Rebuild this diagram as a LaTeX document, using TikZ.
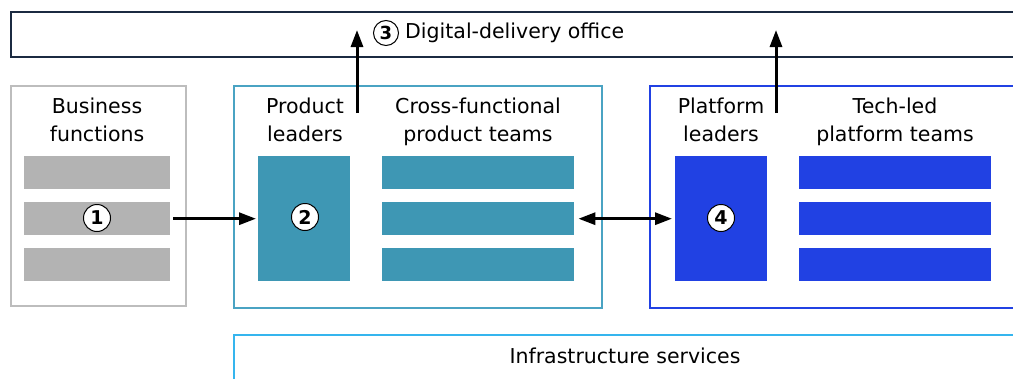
\documentclass[tikz,border=0pt]{standalone}
\usepackage{fontspec}
\setmainfont{DejaVu Sans}
\usetikzlibrary{arrows.meta}
\definecolor{navy}{HTML}{1B2A41}
\definecolor{boxgray}{HTML}{BDBDBD}
\definecolor{bargray}{HTML}{B3B3B3}
\definecolor{teal}{HTML}{3E97B4}
\definecolor{tealedge}{HTML}{4AA3C3}
\definecolor{royal}{HTML}{2141E3}
\definecolor{sky}{HTML}{35B5EE}
\tikzset{
  frame/.style={draw, line width=1.5pt, fill=none, anchor=north west, inner sep=0pt},
  bar/.style={fill=#1, draw=none, anchor=north west, inner sep=0pt, minimum width=146pt, minimum height=33pt},
  leadblock/.style={fill=#1, draw=none, anchor=north west, inner sep=0pt, minimum width=92pt, minimum height=125pt},
  label/.style={font=\fontsize{20.5}{28}\selectfont, align=center, inner sep=0pt, anchor=north},
  badge/.style={circle, draw=black, line width=1pt, fill=white, inner sep=0pt, minimum size=27pt, font=\fontsize{19}{19}\selectfont\bfseries},
  link/.style={line width=3pt, -{Triangle[length=17pt,width=12pt]}},
  twoway/.style={line width=3pt, {Triangle[length=17pt,width=12pt]}-{Triangle[length=17pt,width=12pt]}}
}
\begin{document}
\begin{tikzpicture}[x=1pt,y=-1pt]
\useasboundingbox (0,0) rectangle (1013,378);
\clip (0,0) rectangle (1013,378);

% digital-delivery office band
\node[frame, draw=navy, line width=2pt, minimum width=1040pt, minimum height=45pt] (office) at (10,11) {};
\node[badge, minimum size=25pt, font=\fontsize{18}{18}\selectfont\bfseries] (b3) at (386,33) {3};
\node[font=\fontsize{20.5}{24}\selectfont, anchor=west, inner sep=0pt] (officetext) at (405,33) {Digital-delivery office};

% business functions
\node[frame, draw=boxgray, minimum width=175pt, minimum height=220pt] (business) at (10,85) {};
\node[label] (businesstext) at (97,98) {Business\\functions};
\node[bar=bargray] (g1) at (24,156) {};
\node[bar=bargray] (g2) at (24,202) {};
\node[bar=bargray] (g3) at (24,248) {};
\node[badge] (b1) at (97,218) {1};

% product side
\node[frame, draw=tealedge, minimum width=368pt, minimum height=222pt] (product) at (233,85) {};
\node[label] (pleadtext) at (305,98) {Product\\leaders};
\node[label] (pteamtext) at (478,98) {Cross-functional\\product teams};
\node[leadblock=teal] (plead) at (258,156) {};
\node[bar=teal, minimum width=192pt] (t1) at (382,156) {};
\node[bar=teal, minimum width=192pt] (t2) at (382,202) {};
\node[bar=teal, minimum width=192pt] (t3) at (382,248) {};
\node[badge] (b2) at (305,217) {2};

% platform side
\node[frame, draw=royal, minimum width=400pt, minimum height=222pt] (platform) at (649,85) {};
\node[label] (fleadtext) at (721,98) {Platform\\leaders};
\node[label] (fteamtext) at (895,98) {Tech-led\\platform teams};
\node[leadblock=royal] (flead) at (675,156) {};
\node[bar=royal, minimum width=192pt] (r1) at (799,156) {};
\node[bar=royal, minimum width=192pt] (r2) at (799,202) {};
\node[bar=royal, minimum width=192pt] (r3) at (799,248) {};
\node[badge] (b4) at (721,218) {4};

% infrastructure services
\node[frame, draw=sky, line width=2pt, minimum width=800pt, minimum height=70pt] (infra) at (233,334) {};
\node[font=\fontsize{20.5}{24}\selectfont, inner sep=0pt] (infratext) at (625,356) {Infrastructure services};

% connectors
\coordinate (pup) at (357,113);
\coordinate (ptop) at (357,30);
\coordinate (fup) at (776,113);
\coordinate (ftop) at (776,30);
\draw[link] (pup) -- (ptop);
\draw[link] (fup) -- (ftop);
\draw[link, shorten <=3pt, shorten >=2pt] (g2.east) -- (g2.east -| plead.west);
\draw[twoway, shorten <=4pt, shorten >=3pt] (t2.east) -- (t2.east -| flead.west);
\end{tikzpicture}
\end{document}
